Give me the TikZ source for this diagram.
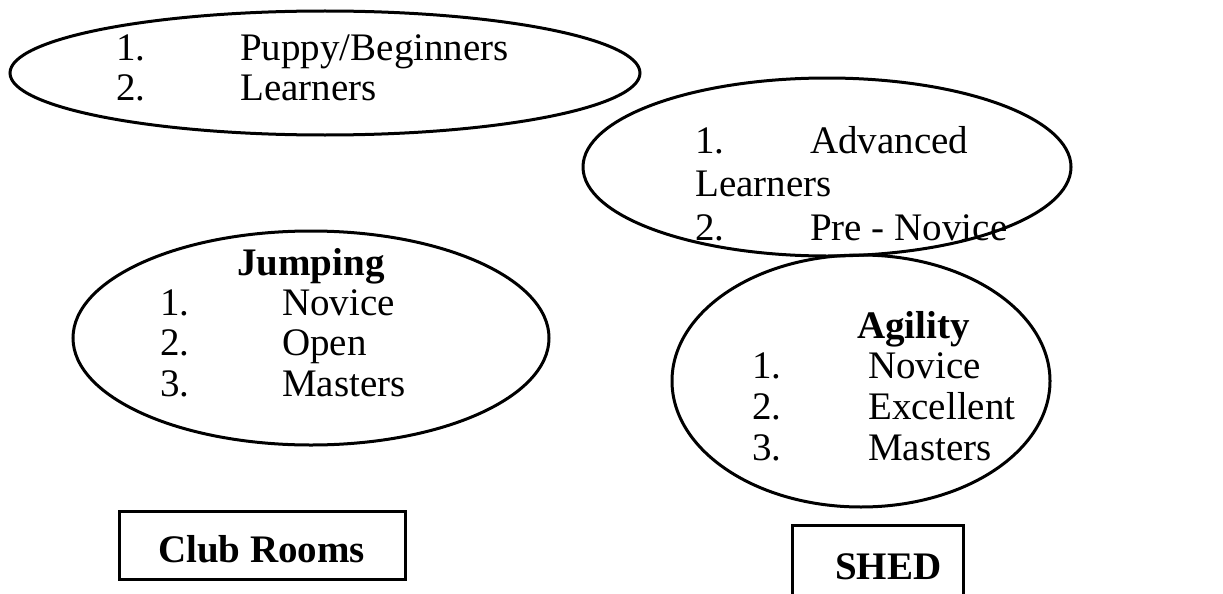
\documentclass[tikz,border=0pt]{standalone}
\usepackage{fontspec}
\setmainfont{Liberation Serif}
\usetikzlibrary{shapes.geometric}
\begin{document}
\begin{tikzpicture}[x=1pt,y=-1pt,
  oval/.style={draw,ellipse,line width=3pt,inner sep=0pt},
  box/.style={draw,line width=3pt,inner sep=0pt},
  txt/.style={anchor=base west,inner sep=0pt,font=\fontsize{39}{40}\selectfont},
  btxt/.style={anchor=base west,inner sep=0pt,font=\fontsize{39}{40}\selectfont\bfseries}]
\useasboundingbox (0,0) rectangle (1223,594);
% ellipses
\node[oval,minimum width=630pt,minimum height=124pt] (e1) at (325,73) {};
\node[oval,minimum width=488pt,minimum height=178pt] (e2) at (827,167) {};
\node[oval,minimum width=476pt,minimum height=214pt] (e3) at (311,338) {};
\node[oval,minimum width=378pt,minimum height=252pt] (e4) at (861,381) {};
% boxes
\node[box,minimum width=286pt,minimum height=68pt] (b1) at (262,545) {};
\node[box,minimum width=171pt,minimum height=80pt] (b2) at (877.5,565) {};
% top ellipse text
\node[txt] (t11) at (116,60) {1.};
\node[txt] (t12) at (240,60) {Puppy/Beginners};
\node[txt] (t21) at (116,100) {2.};
\node[txt] (t22) at (240,100) {Learners};
% right ellipse text
\node[txt] (a11) at (695,153) {1.};
\node[txt] (a12) at (810,153) {Advanced};
\node[txt] (a21) at (695,196) {Learners};
\node[txt] (a31) at (695,240) {2.};
\node[txt] (a32) at (810,240) {Pre - Novice};
% jumping
\node[btxt] (jh) at (237,275) {Jumping};
\node[txt] (j11) at (160,315) {1.};
\node[txt] (j12) at (282,315) {Novice};
\node[txt] (j21) at (160,355) {2.};
\node[txt] (j22) at (282,355) {Open};
\node[txt] (j31) at (160,396) {3.};
\node[txt] (j32) at (282,396) {Masters};
% agility
\node[btxt] (gh) at (857,338) {Agility};
\node[txt] (g11) at (752,378) {1.};
\node[txt] (g12) at (868,378) {Novice};
\node[txt] (g21) at (752,419) {2.};
\node[txt] (g22) at (868,419) {Excellent};
\node[txt] (g31) at (752,460) {3.};
\node[txt] (g32) at (868,460) {Masters};
% box labels
\node[btxt] (cr) at (158,562) {Club Rooms};
\node[btxt] (sh) at (835,579) {SHED};
\end{tikzpicture}
\end{document}
